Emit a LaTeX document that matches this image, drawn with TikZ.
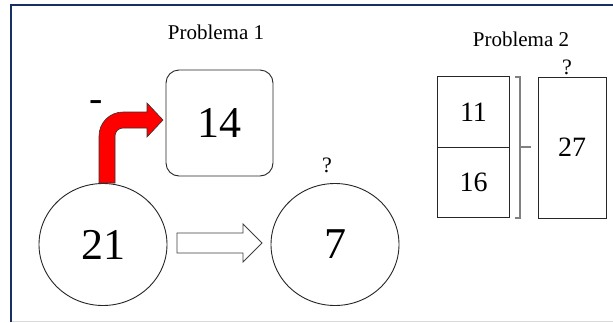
\documentclass[tikz,border=0pt]{standalone}
\usepackage{fontspec}
\setmainfont{Liberation Serif}
\usetikzlibrary{shapes.geometric}
\definecolor{framenavy}{RGB}{22,48,102}
\definecolor{bracketgray}{RGB}{128,128,128}

\begin{document}
\begin{tikzpicture}[
			x=1pt, y=-1pt,
			node distance={232pt},
			ball/.style = {draw=black!85, ellipse, minimum width=128pt, minimum height=122pt, inner sep=0pt, line width=0.9pt, font=\fontsize{44}{48}\selectfont},
			card/.style = {draw=black!85, rounded corners=13pt, minimum width=107pt, minimum height=106pt, inner sep=0pt, line width=0.9pt, font=\fontsize{44}{48}\selectfont},
			part/.style = {draw=black!85, rectangle, minimum width=72pt, minimum height=70.5pt, inner sep=0pt, line width=0.9pt, font=\fontsize{28}{32}\selectfont},
			whole/.style = {draw=black!85, rectangle, minimum width=68pt, minimum height=141pt, inner sep=0pt, line width=0.9pt, font=\fontsize{28}{32}\selectfont},
			title/.style = {anchor=base, inner sep=0pt, font=\fontsize{21}{24}\selectfont},
			quest/.style = {inner sep=0pt, font=\fontsize{22}{24}\selectfont}
		]
		\useasboundingbox (0,0) rectangle (613,322);
		\fill[white] (0,0) rectangle (613,322);
		% frame
		\draw[gray!30, line width=1pt] (11,321.5) -- (613,321.5);
		\draw[framenavy, line width=1.5pt] (11,322) -- (11,5) -- (613,5);
		% problema 1
		\node[title] (t1) at (216,39) {Problema 1};
		\node[ball] (21) at (103,244.5) {21};
		\node[ball] (7) [right of=21] {7};
		\node[card] (14) at (219.5,123) {14};
		\node[quest] (q7) at (327,165) {?};
		\node[inner sep=0pt, font=\fontsize{40}{44}\selectfont] (minus) at (96,106) {-};
		\draw[black!80, line width=0.6pt, fill=red] (99,183) -- (99,136) arc (180:270:24) -- (147,112) -- (147,103)
			-- (163,120) -- (147,137) -- (147,128) -- (123,128) arc (270:180:8) -- (115,183) -- cycle;
		\draw[black!75, line width=0.9pt, fill=white] (177,233) -- (243,233) -- (243,224) -- (262,243)
			-- (243,262) -- (243,253) -- (177,253) -- cycle;
		% problema 2
		\node[title] (t2) at (521,46) {Problema 2};
		\node[part] (11) at (473.5,112) {11};
		\node[part] (16) [below of=11, node distance=70.5pt] {16};
		\node[whole] (27) at (572,147.5) {27};
		\node[quest] (q27) at (567,67) {?};
		\draw[bracketgray, line width=1.2pt] (515,77) -- (520,77) -- (520,218) -- (515,218);
		\draw[bracketgray, line width=1.2pt] (520,147) -- (531,147);
	\end{tikzpicture}
\end{document}
